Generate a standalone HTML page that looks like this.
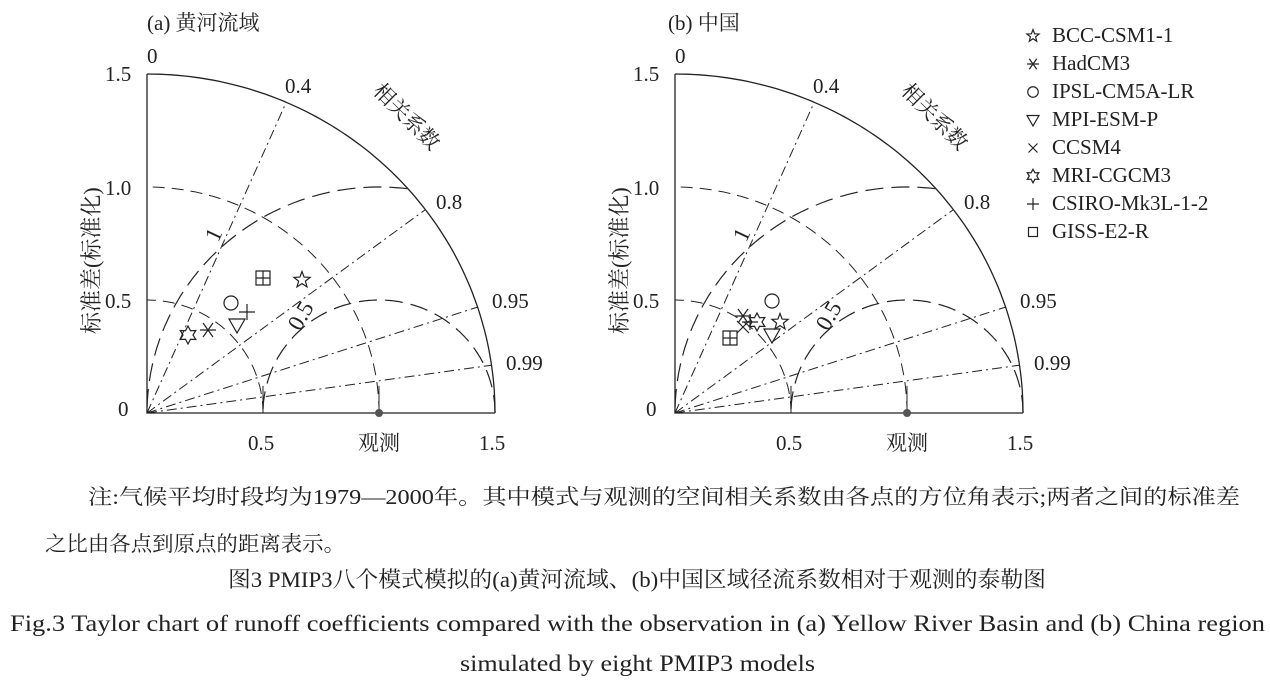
<!DOCTYPE html>
<html><head><meta charset="utf-8"><style>
html,body{margin:0;padding:0;background:#fff;}
svg{display:block;font-family:"Liberation Serif","Noto Serif CJK SC",serif;}
</style></head><body>
<svg id="s" width="1270" height="686" viewBox="0 0 1270 686" xmlns="http://www.w3.org/2000/svg">
<g id="g" fill="none" stroke="#222"></g>
<g fill="#222" font-size="21">
<text x="147" y="30" font-size="21">(a) 黄河流域</text>
<text x="668" y="30" font-size="21">(b) 中国</text>
<g id="la">
<text x="147" y="63">0</text>
<text x="105" y="81">1.5</text><text x="105" y="195">1.0</text><text x="105" y="308">0.5</text><text x="118" y="416">0</text>
<text x="248" y="450">0.5</text><text x="358" y="450">观测</text><text x="479" y="450">1.5</text>
<text x="285" y="93">0.4</text><text x="436" y="209">0.8</text><text x="492" y="308">0.95</text><text x="506" y="370">0.99</text>
<text transform="translate(372,92) rotate(45)">相关系数</text>
<text transform="translate(300,332) rotate(-60)" font-size="23">0.5</text>
<text transform="translate(218,243) rotate(-65)" font-size="23">1</text>
<text transform="translate(99,334) rotate(-90)" font-size="22">标准差(标准化)</text>
</g>
<g transform="translate(528,0)">
<text x="147" y="63">0</text>
<text x="105" y="81">1.5</text><text x="105" y="195">1.0</text><text x="105" y="308">0.5</text><text x="118" y="416">0</text>
<text x="248" y="450">0.5</text><text x="358" y="450">观测</text><text x="479" y="450">1.5</text>
<text x="285" y="93">0.4</text><text x="436" y="209">0.8</text><text x="492" y="308">0.95</text><text x="506" y="370">0.99</text>
<text transform="translate(372,92) rotate(45)">相关系数</text>
<text transform="translate(300,332) rotate(-60)" font-size="23">0.5</text>
<text transform="translate(218,243) rotate(-65)" font-size="23">1</text>
<text transform="translate(99,334) rotate(-90)" font-size="22">标准差(标准化)</text>
</g>
<g font-size="21">
<text x="1052" y="42">BCC-CSM1-1</text>
<text x="1052" y="70">HadCM3</text>
<text x="1052" y="98">IPSL-CM5A-LR</text>
<text x="1052" y="126">MPI-ESM-P</text>
<text x="1052" y="154">CCSM4</text>
<text x="1052" y="182">MRI-CGCM3</text>
<text x="1052" y="210">CSIRO-Mk3L-1-2</text>
<text x="1052" y="238">GISS-E2-R</text>
</g>
<g font-size="21">
<text x="88" y="504" textLength="1152" lengthAdjust="spacingAndGlyphs">注:气候平均时段均为1979—2000年。其中模式与观测的空间相关系数由各点的方位角表示;两者之间的标准差</text>
<text x="45" y="551" textLength="300" lengthAdjust="spacingAndGlyphs">之比由各点到原点的距离表示。</text>
<text x="228" y="587" font-size="22" textLength="818" lengthAdjust="spacingAndGlyphs">图3   PMIP3八个模式模拟的(a)黄河流域、(b)中国区域径流系数相对于观测的泰勒图</text>
<text x="10" y="631" font-size="23" textLength="1255" lengthAdjust="spacingAndGlyphs">Fig.3   Taylor chart of runoff coefficients compared with the observation in (a) Yellow River Basin and (b) China region</text>
<text x="460" y="671" font-size="23" textLength="355" lengthAdjust="spacingAndGlyphs">simulated by eight PMIP3 models</text>
</g>
</g>
</svg>
<script>
var g=document.getElementById('g'),NS='http://www.w3.org/2000/svg';
function el(t,a){var e=document.createElementNS(NS,t);for(var k in a)e.setAttribute(k,a[k]);g.appendChild(e);return e;}
function chart(ox,oy,pts){
 var sx=232,sy=226;
 function P(x,y){return [ox+x*sx,oy-y*sy];}
 function poly(arr,attrs){var d='';arr.forEach(function(p,i){var q=P(p[0],p[1]);d+=(i?'L':'M')+q[0].toFixed(1)+' '+q[1].toFixed(1);});attrs.d=d;return el('path',attrs);}
 var a=[];for(var t=0;t<=90;t+=1){var r=t*Math.PI/180;a.push([1.5*Math.cos(r),1.5*Math.sin(r)]);}
 poly(a,{'stroke-width':1.3});
 poly([[0,1.5],[0,0],[1.5,0]],{'stroke-width':1.3});
 [0.5,1.0].forEach(function(R){var b=[];for(var t=0;t<=90;t+=1){var r=t*Math.PI/180;b.push([R*Math.cos(r),R*Math.sin(r)]);}poly(b,{'stroke-width':1,'stroke-dasharray':'12 7'});});
 [0.5,1.0].forEach(function(R){var b=[];for(var t=0;t<=180;t+=1){var r=t*Math.PI/180;var x=1+R*Math.cos(r),y=R*Math.sin(r);if(x*x+y*y<=2.25&&x>=0)b.push([x,y]);}poly(b,{'stroke-width':1.2,'stroke-dasharray':'18 8'});});
 [0.4,0.8,0.95,0.99].forEach(function(c){var s=Math.sqrt(1-c*c);poly([[0,0],[1.5*c,1.5*s]],{'stroke-width':1,'stroke-dasharray':'10 4 2 4'});});
 poly([[0.5,0],[0.5,0.12]],{'stroke-width':1});poly([[1,0],[1,0.12]],{'stroke-width':1});
 var o=P(1,0);el('circle',{cx:o[0],cy:o[1],r:4,fill:'#555',stroke:'none'});
 pts.forEach(function(p){marker(p[0],p[1],p[2],1);});
}
function marker(x,y,k,s){
 var A={'stroke-width':1.2,fill:'none'};
 if(k=='star'){var d='';for(var i=0;i<10;i++){var r=(i%2?3.6:8.5)*s,an=-Math.PI/2+i*Math.PI/5;d+=(i?'L':'M')+(x+r*Math.cos(an)).toFixed(1)+' '+(y+r*Math.sin(an)).toFixed(1);}A.d=d+'Z';el('path',A);}
 else if(k=='hex'){var d='';for(var i=0;i<12;i++){var r=(i%2?5:9)*s,an=-Math.PI/2+i*Math.PI/6;d+=(i?'L':'M')+(x+r*Math.cos(an)).toFixed(1)+' '+(y+r*Math.sin(an)).toFixed(1);}A.d=d+'Z';el('path',A);}
 else if(k=='ast'){var a=8*s,b=5*s,c=7*s;A.d='M'+(x-a)+' '+y+'H'+(x+a)+'M'+(x-b)+' '+(y-c)+'L'+(x+b)+' '+(y+c)+'M'+(x+b)+' '+(y-c)+'L'+(x-b)+' '+(y+c);el('path',A);}
 else if(k=='circ'){A.cx=x;A.cy=y;A.r=7*s;el('circle',A);}
 else if(k=='tri'){var a=8*s,b=6*s;A.d='M'+(x-a)+' '+(y-b)+'H'+(x+a)+'L'+x+' '+(y+a)+'Z';el('path',A);}
 else if(k=='x'){var a=6*s;A.d='M'+(x-a)+' '+(y-a)+'L'+(x+a)+' '+(y+a)+'M'+(x+a)+' '+(y-a)+'L'+(x-a)+' '+(y+a);el('path',A);}
 else if(k=='plus'){var a=8*s;A.d='M'+(x-a)+' '+y+'H'+(x+a)+'M'+x+' '+(y-a)+'V'+(y+a);el('path',A);}
 else if(k=='sq'){var a=6*s;A.x=x-a;A.y=y-a;A.width=2*a;A.height=2*a;el('rect',A);}
 else if(k=='sqg'){A.d='M'+(x-7)+' '+(y-7)+'h14v14h-14zM'+x+' '+(y-7)+'v14M'+(x-7)+' '+y+'h14';el('path',A);}
}
chart(147,413,[[302,280,'star'],[263,278,'sqg'],[231,303,'circ'],[237,325,'tri'],[247,312,'plus'],[188,335,'hex'],[208,330,'ast']]);
chart(675,413,[[772,301,'circ'],[743,316,'ast'],[743,327,'x'],[757,322,'hex'],[780,322,'star'],[772,335,'tri'],[730,338,'sqg'],[750,322,'plus']]);
var ly=[36,64,92,120,148,176,204,232],lk=['star','ast','circ','tri','x','hex','plus','sq'];
ly.forEach(function(y,i){marker(1033,y,lk[i],0.75);});
</script>
</body></html>
